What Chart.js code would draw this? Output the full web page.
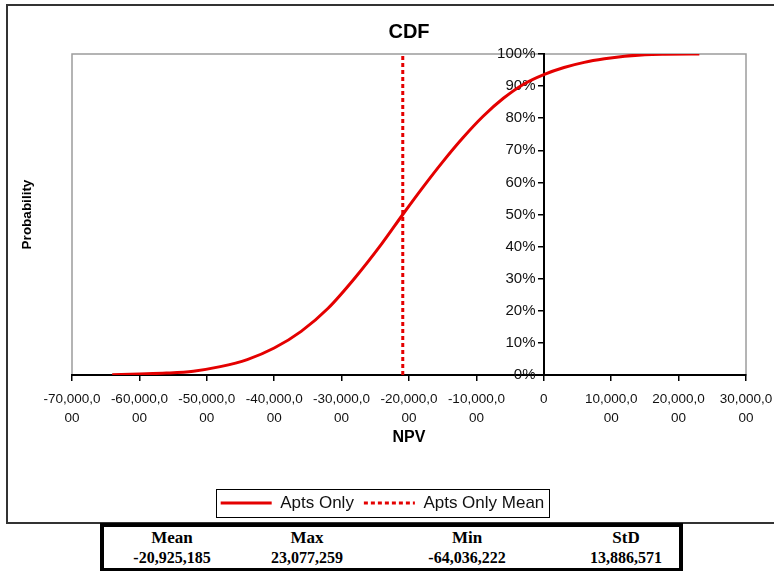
<!DOCTYPE html>
<html>
<head>
<meta charset="utf-8">
<script src="https://cdn.jsdelivr.net/npm/chart.js@4.4.1/dist/chart.umd.min.js"></script>
<style>
  body { margin: 0; background: #fff; width: 774px; height: 571px; overflow: hidden; position: relative; }
  #frame { position: absolute; left: 6px; top: 4px; width: 800px; height: 516px; border: 2px solid #333; }
  #myChart { position: absolute; left: 0; top: 0; }
  #stats { position: absolute; left: 100px; top: 523px; width: 575px; height: 41px;
    border: 4px solid #000; border-bottom-width: 3px; background: #fff;
    font-family: 'Liberation Serif', 'Times New Roman', serif; font-weight: bold; color: #000; }
  .cell { position: absolute; width: 130px; text-align: center; line-height: 20px; }
  .head { top: 1px; font-size: 17px; }
  .val { top: 21px; font-size: 16px; }
</style>
</head>
<body>
<div id="frame"></div>
<canvas id="myChart" width="774" height="523"></canvas>
<div id="stats"></div>
<script>
// NPV values (x) and cumulative probability (y)
const npvValues = [-64036222, -60000000, -56000000, -52000000, -48000000, -44000000,
  -40000000, -36000000, -32000000, -28000000, -24000000, -20925185, -18000000,
  -15000000, -12000000, -9000000, -6000000, -3000000, 0, 3000000, 6000000,
  9000000, 12000000, 15000000, 18000000, 23077259];
const cdfValues = [0.0005, 0.003, 0.006, 0.012, 0.026, 0.048, 0.084, 0.136, 0.208,
  0.303, 0.41, 0.5, 0.583, 0.664, 0.739, 0.806, 0.862, 0.906, 0.936, 0.958,
  0.974, 0.985, 0.993, 0.998, 0.9995, 1.0];
const meanNpv = -20925185;
const meanLine = [0, 1];

const statLabels = ['Mean', 'Max', 'Min', 'StD'];
const statValues = ['-20,925,185', '23,077,259', '-64,036,222', '13,886,571'];
const statCenters = [172, 307, 467, 626];  // page x of each column

const sans = 'Liberation Sans, Arial, sans-serif';
const red = 'rgb(228, 0, 0)';

// stats table under the chart
const stats = document.getElementById('stats');
statLabels.forEach((lab, i) => {
  const left = statCenters[i] - 104 - 65;
  stats.insertAdjacentHTML('beforeend',
      `<div class="cell head" style="left:${left}px">${lab}</div>` +
      `<div class="cell val" style="left:${left}px">${statValues[i]}</div>`);
});

const boxes = {
  id: 'boxes',
  beforeDraw(chart) {
    const {ctx, chartArea: a} = chart;
    ctx.save();
    ctx.strokeStyle = '#9c9c9c';
    ctx.lineWidth = 1.5;
    ctx.strokeRect(a.left, a.top, a.right - a.left, a.bottom - a.top);
    ctx.restore();
  },
  afterDraw(chart) {
    const hb = chart.legend.legendHitBoxes;
    if (!hb || !hb.length) return;
    const l = Math.min(...hb.map(h => h.left)) - 5;
    const r = Math.max(...hb.map(h => h.left + h.width)) + 4;
    const t = Math.min(...hb.map(h => h.top)) - 5.5;
    const b = Math.max(...hb.map(h => h.top + h.height)) + 5.5;
    const ctx = chart.ctx;
    ctx.save();
    ctx.strokeStyle = '#000';
    ctx.lineWidth = 1;
    ctx.strokeRect(Math.round(l) + 0.5, Math.round(t) + 0.5, Math.round(r - l), Math.round(b - t));
    ctx.restore();
  }
};

const ctx = document.getElementById('myChart');
const chart = new Chart(ctx, {
  type: 'line',
  data: {
    datasets: [
      {
        label: 'Apts Only',
        data: npvValues.map((v, i) => ({x: v, y: cdfValues[i]})),
        borderColor: red,
        backgroundColor: red,
        borderWidth: 3,
        pointRadius: 0,
        cubicInterpolationMode: 'monotone',
        fill: false,
        xAxisID: 'x',
        yAxisID: 'y'
      },
      {
        label: 'Apts Only Mean',
        data: meanLine.map(p => ({x: meanNpv, y: p})),
        borderColor: red,
        backgroundColor: red,
        borderWidth: 3,
        borderDash: [4, 3],
        pointRadius: 0,
        fill: false,
        xAxisID: 'x',
        yAxisID: 'y'
      }
    ]
  },
  options: {
    responsive: false,
    animation: false,
    devicePixelRatio: 1,
    layout: {padding: {left: 0, right: 9, top: 0, bottom: 1.5}},
    scales: {
      x: {
        type: 'linear',
        position: 'bottom',
        min: -70000000,
        max: 30000000,
        afterFit: (s) => {
          s.height = 109.5;
          // let the end labels overhang, as in the original
          s.paddingLeft = 0;
          s.paddingRight = 0;
        },
        ticks: {
          stepSize: 10000000,
          autoSkip: false,
          maxRotation: 0,
          minRotation: 0,
          padding: 9,
          color: '#111',
          font: {family: sans, size: 13.5, lineHeight: 1.42},
          callback: (v) => {
            v = Math.round(v);
            if (v === 0) return '0';
            const s = v.toLocaleString('en-US');
            return [s.slice(0, -2), s.slice(-2)];
          }
        },
        grid: {drawOnChartArea: false, color: '#000', lineWidth: 1.5, tickLength: 6},
        border: {color: '#000', width: 2},
        title: {
          display: true,
          text: 'NPV',
          color: '#000',
          font: {family: sans, size: 16, weight: 'bold'},
          padding: {top: 0, bottom: 37}
        }
      },
      y: {
        type: 'linear',
        position: {x: 0},
        min: 0,
        max: 1,
        ticks: {
          stepSize: 0.1,
          color: '#111',
          font: {family: sans, size: 15},
          // labels sit right-aligned on the axis line, so pad them with spaces
          callback: (v) => Math.round(v * 100) + '%  '
        },
        grid: {drawOnChartArea: false, color: '#000', lineWidth: 1.5, tickLength: 5},
        border: {color: '#000', width: 2}
      },
      yLeft: {
        type: 'linear',
        position: 'left',
        afterFit: (s) => { s.width = 72; },
        ticks: {display: false},
        grid: {display: false},
        border: {display: false},
        title: {
          display: true,
          text: 'Probability',
          color: '#000',
          font: {family: sans, size: 13.5, weight: 'bold'},
          padding: {top: 19.5, bottom: 0}
        }
      },
      yRight: {
        type: 'linear',
        position: 'right',
        afterFit: (s) => { s.width = 19; },
        ticks: {display: false},
        grid: {display: false},
        border: {display: false}
      }
    },
    plugins: {
      title: {
        display: true,
        text: 'CDF',
        fullSize: false,
        color: '#000',
        font: {family: sans, size: 20, weight: 'bold'},
        padding: {top: 20, bottom: 10}
      },
      legend: {
        position: 'bottom',
        labels: {
          boxWidth: 51,
          boxHeight: 0,
          padding: 10,
          color: '#111',
          font: {family: sans, size: 17}
        }
      },
      tooltip: {enabled: false}
    }
  },
  plugins: [boxes]
});
</script>
</body>
</html>
